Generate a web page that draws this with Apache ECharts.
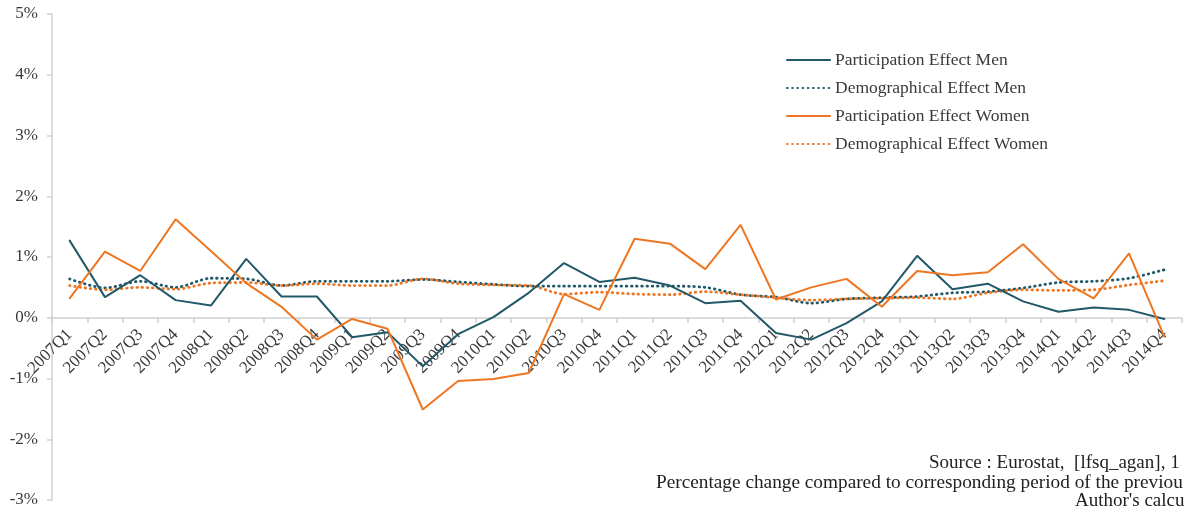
<!DOCTYPE html>
<html>
<head>
<meta charset="utf-8">
<title>Participation and demographical effects</title>
<script src="https://cdn.jsdelivr.net/npm/echarts@6/dist/echarts.min.js"></script>
<style>
  html, body { margin: 0; padding: 0; background: #fff; }
  #main { width: 1184px; height: 518px; }
</style>
</head>
<body>
<div id="main"></div>
<script>
var quarters = ['2007Q1', '2007Q2', '2007Q3', '2007Q4', '2008Q1', '2008Q2', '2008Q3', '2008Q4',
    '2009Q1', '2009Q2', '2009Q3', '2009Q4', '2010Q1', '2010Q2', '2010Q3', '2010Q4',
    '2011Q1', '2011Q2', '2011Q3', '2011Q4', '2012Q1', '2012Q2', '2012Q3', '2012Q4',
    '2013Q1', '2013Q2', '2013Q3', '2013Q4', '2014Q1', '2014Q2', '2014Q3', '2014Q4'];

var partMen = [1.27, 0.34, 0.70, 0.29, 0.20, 0.97, 0.35, 0.35,
    -0.32, -0.24, -0.80, -0.27, 0.01, 0.41, 0.90, 0.59,
    0.66, 0.53, 0.24, 0.28, -0.25, -0.36, -0.09, 0.27,
    1.02, 0.47, 0.56, 0.27, 0.10, 0.17, 0.13, -0.02];

var demoMen = [0.64, 0.49, 0.60, 0.50, 0.65, 0.64, 0.53, 0.60,
    0.60, 0.60, 0.63, 0.59, 0.55, 0.52, 0.52, 0.52,
    0.52, 0.52, 0.50, 0.38, 0.34, 0.24, 0.31, 0.33,
    0.35, 0.41, 0.43, 0.49, 0.58, 0.60, 0.65, 0.79];

var partWomen = [0.32, 1.09, 0.77, 1.62, 1.10, 0.57, 0.18, -0.36,
    -0.02, -0.18, -1.51, -1.04, -1.01, -0.91, 0.39, 0.13,
    1.30, 1.22, 0.80, 1.53, 0.30, 0.50, 0.64, 0.18,
    0.77, 0.70, 0.75, 1.21, 0.64, 0.32, 1.06, -0.31];

var demoWomen = [0.53, 0.46, 0.50, 0.47, 0.57, 0.58, 0.53, 0.56,
    0.53, 0.53, 0.64, 0.56, 0.54, 0.53, 0.39, 0.42,
    0.39, 0.38, 0.43, 0.38, 0.33, 0.29, 0.31, 0.32,
    0.33, 0.31, 0.41, 0.46, 0.45, 0.46, 0.54, 0.61];

var sourceLines = [
    'Source : Eurostat,  [lfsq_agan], 1',
    'Percentage change compared to corresponding period of the previou',
    "Author's calcu"
];

var teal = '#215968';
var orange = '#ee7623';
var serif = 'Liberation Serif';
var textColor = '#3a3a3a';

var myChart = echarts.init(document.getElementById('main'));

function lineSeries(name, data, color, dotted) {
    return {
        name: name,
        type: 'line',
        data: data,
        symbol: 'none',
        smooth: dotted ? 0.3 : false,
        lineStyle: {
            color: color,
            width: dotted ? 2.8 : 2,
            type: dotted ? [0.6, 4.6] : 'solid',
            cap: 'round'
        },
        itemStyle: { color: color },
        z: dotted ? 2 : 3
    };
}

var option = {
    backgroundColor: '#fff',
    animation: false,
    grid: {
        left: 52,
        right: 2,
        top: 14,
        bottom: 18,
        containLabel: false,
        outerBoundsMode: 'none'
    },
    legend: {
        orient: 'vertical',
        left: 781,
        top: 46,
        itemWidth: 43,
        itemHeight: 14,
        itemGap: 10,
        itemStyle: { opacity: 0 },
        textStyle: {
            fontFamily: serif,
            fontSize: 17.5,
            color: textColor
        },
        data: ['Participation Effect Men', 'Demographical Effect Men',
            'Participation Effect Women', 'Demographical Effect Women']
    },
    xAxis: {
        type: 'category',
        data: quarters,
        boundaryGap: true,
        offset: -182, // axis drawn on the 0% line
        axisLine: {
            onZero: false,
            lineStyle: { color: '#d0d0d0', width: 1.5 }
        },
        axisTick: {
            show: true,
            length: 5,
            lineStyle: { color: '#d0d0d0', width: 1.5 }
        },
        axisLabel: {
            rotate: 45,
            interval: 0,
            margin: 14,
            fontFamily: serif,
            fontSize: 17,
            color: textColor
        },
        splitLine: { show: false }
    },
    yAxis: {
        type: 'value',
        min: -3,
        max: 5,
        interval: 1,
        axisLine: {
            show: true,
            lineStyle: { color: '#d0d0d0', width: 1.5 }
        },
        axisTick: {
            show: true,
            length: 5,
            lineStyle: { color: '#d0d0d0', width: 1.5 }
        },
        axisLabel: {
            formatter: '{value}%',
            margin: 14,
            fontFamily: serif,
            fontSize: 17,
            color: textColor
        },
        splitLine: { show: false }
    },
    graphic: [
        { type: 'text', left: 929, top: 454, style: { text: sourceLines[0], font: '19px "Liberation Serif"', fill: '#222' } },
        { type: 'text', left: 656, top: 473, style: { text: sourceLines[1], font: '19.3px "Liberation Serif"', fill: '#222' } },
        { type: 'text', left: 1075, top: 492, style: { text: sourceLines[2], font: '19px "Liberation Serif"', fill: '#222' } }
    ],
    series: [
        lineSeries('Participation Effect Men', partMen, teal, false),
        lineSeries('Demographical Effect Men', demoMen, teal, true),
        lineSeries('Participation Effect Women', partWomen, orange, false),
        lineSeries('Demographical Effect Women', demoWomen, orange, true)
    ]
};

myChart.setOption(option, true);
</script>
</body>
</html>
